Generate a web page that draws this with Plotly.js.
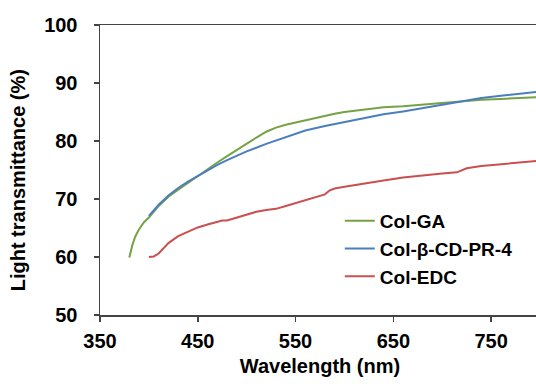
<!DOCTYPE html>
<html><head><meta charset="utf-8">
<script src="https://cdn.plot.ly/plotly-3.0.1.min.js"></script>
<style>html,body{margin:0;padding:0;overflow:hidden;background:#fff;width:536px;height:384px}</style>
</head><body>
<div id="chart" style="width:545px;height:384px"></div>
<script>
const gaWave = [380,383,386,390,395,400,410,420,430,440,450,460,470,480,490,500,510,520,530,540,550,560,570,580,590,600,620,640,660,680,700,720,740,760,780,800];
const gaT    = [59.9,62.0,63.5,64.8,66.0,66.8,68.8,70.4,71.6,72.8,73.9,75.1,76.3,77.4,78.5,79.6,80.6,81.6,82.3,82.8,83.2,83.6,83.9,84.3,84.7,85.0,85.4,85.8,86.0,86.3,86.6,86.85,87.1,87.25,87.4,87.6];

const cdWave = [400,410,420,430,440,450,460,470,480,490,500,520,540,560,580,600,620,640,660,680,700,720,740,760,780,800];
const cdT    = [67.1,69.0,70.6,71.9,73.0,74.0,75.0,75.9,76.7,77.5,78.2,79.5,80.7,81.8,82.6,83.3,84.0,84.6,85.1,85.7,86.3,86.9,87.4,87.8,88.2,88.5];

const edcWave = [400,405,410,415,420,430,440,450,460,470,475,480,490,500,510,520,530,540,550,560,570,580,585,590,600,620,640,660,680,700,715,725,740,760,780,800];
const edcT    = [60.0,60.1,60.6,61.6,62.4,63.6,64.4,65.1,65.6,66.0,66.3,66.3,66.8,67.3,67.8,68.1,68.3,68.8,69.3,69.8,70.3,70.8,71.5,71.8,72.1,72.7,73.2,73.7,74.1,74.4,74.6,75.3,75.7,76.0,76.3,76.6];

const names = ['Col-GA', 'Col-β-CD-PR-4', 'Col-EDC'];
const xTicks = [350, 450, 550, 650, 750];
const yTicks = [50, 60, 70, 80, 90, 100];

const font = 'Arial, "Liberation Sans", sans-serif';
const bold = (s) => ({family: font, size: s, color: '#000', weight: 700});
const traces = [
  {x: gaWave, y: gaT, name: names[0], mode: 'lines', line: {color: '#76a244', width: 2}},
  {x: cdWave, y: cdT, name: names[1], mode: 'lines', line: {color: '#4a7ebf', width: 2}},
  {x: edcWave, y: edcT, name: names[2], mode: 'lines', line: {color: '#c9504f', width: 2}}
];
const layout = {
  width: 545, height: 384,
  margin: {l: 100, r: 5, t: 25, b: 69},
  paper_bgcolor: '#fff', plot_bgcolor: '#fff',
  showlegend: true,
  legend: {x: 0.545, y: 0.39, xanchor: 'left', yanchor: 'top', bgcolor: 'rgba(0,0,0,0)',
           font: bold(19), itemwidth: 30, tracegroupgap: 0},
  xaxis: {range: [350, 800], tickvals: xTicks, ticktext: xTicks.map(String),
          showgrid: false, zeroline: false, showline: true, mirror: true,
          linecolor: '#444', linewidth: 1.5, ticks: 'outside', ticklen: 5, tickcolor: '#444', tickwidth: 1.5,
          ticklabelstandoff: 2,
          tickfont: bold(20),
          title: {text: 'Wavelength (nm)', font: bold(20), standoff: 8}},
  yaxis: {range: [50, 100], tickvals: yTicks, ticktext: yTicks.map(String),
          showgrid: false, zeroline: false, showline: true,
          linecolor: '#444', linewidth: 1.5, ticks: 'outside', ticklen: 5, tickcolor: '#444', tickwidth: 1.5,
          ticklabelstandoff: 12,
          tickfont: bold(20)},
  annotations: [{text: 'Light transmittance (%)', textangle: -90, xref: 'paper', yref: 'paper',
                 x: -0.186, y: 0.465, xanchor: 'center', yanchor: 'middle', showarrow: false,
                 font: bold(20)}]
};
Plotly.newPlot('chart', traces, layout, {displayModeBar: false, staticPlot: true});
</script>
</body></html>
